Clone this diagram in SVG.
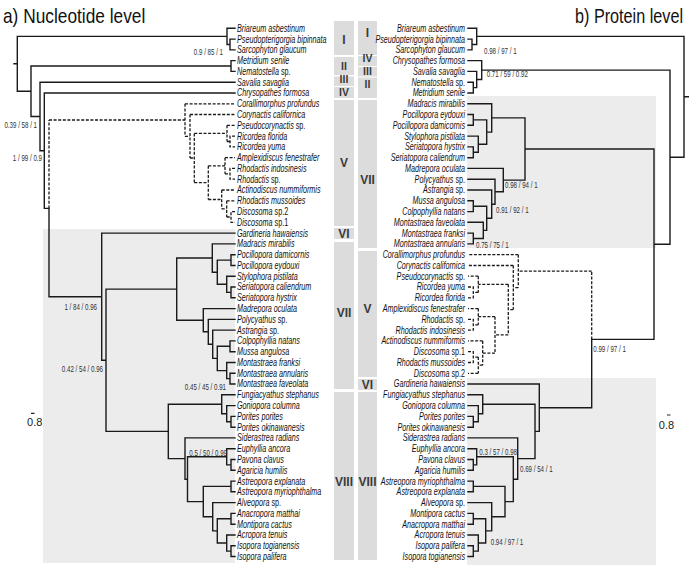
<svg xmlns="http://www.w3.org/2000/svg" width="689" height="569" viewBox="0 0 689 569">
<style>
.t{font-family:"Liberation Sans",Arial,sans-serif;font-size:10px;font-style:italic;fill:#111}
.n{font-style:normal}
.b{font-family:"Liberation Sans",Arial,sans-serif;font-size:9.5px;fill:#333}
.r{font-family:"Liberation Sans",Arial,sans-serif;font-weight:bold;font-size:12px;fill:#3a3a3a;text-anchor:middle}
.rs{font-size:10.5px}
.s{fill:none;stroke:#1a1a1a;stroke-width:1.4;stroke-linecap:square}
.d{fill:none;stroke:#1a1a1a;stroke-width:1.3;stroke-dasharray:3 1.6}
.bx{fill:#dcdcdc}
.bg{fill:#ececec}
.ti{font-family:"Liberation Sans",Arial,sans-serif;font-size:20px;fill:#111}
</style>
<rect width="689" height="569" fill="#fff"/>
<g id="backgrounds">
<rect class="bg" x="43" y="229" width="192" height="334"/>
<rect class="bg" x="467" y="96" width="189" height="152"/>
<rect class="bg" x="467" y="378" width="189" height="187"/>
</g>
<text id="title-a" class="ti" transform="translate(3 23) scale(0.865 1)">a) Nucleotide level</text>
<text id="title-b" class="ti" transform="translate(575 23) scale(0.81 1)">b) Protein level</text>
<g id="groups-left">
<rect class="bx" x="334" y="21" width="20" height="34"/><text class="r" x="344" y="44">I</text>
<rect class="bx" x="334" y="57" width="20" height="18"/><text class="r rs" x="344" y="70.3">II</text>
<rect class="bx" x="334" y="76.5" width="20" height="9.5"/><text class="r rs" x="344" y="83.3">III</text>
<rect class="bx" x="334" y="87" width="20" height="11"/><text class="r rs" x="344" y="96">IV</text>
<rect class="bx" x="334" y="100" width="20" height="126"/><text class="r" x="344" y="167">V</text>
<rect class="bx" x="334" y="228" width="20" height="11"/><text class="r" x="344" y="238">VI</text>
<rect class="bx" x="334" y="242" width="20" height="147"/><text class="r" x="344" y="317">VII</text>
<rect class="bx" x="334" y="392" width="20" height="168"/><text class="r" x="344" y="486">VIII</text>
</g>
<g id="groups-right">
<rect class="bx" x="358" y="21" width="19" height="34"/><text class="r" x="367.5" y="37">I</text>
<rect class="bx" x="358" y="56" width="19" height="10"/><text class="r rs" x="367.5" y="62.3">IV</text>
<rect class="bx" x="358" y="67" width="19" height="9.5"/><text class="r rs" x="367.5" y="75">III</text>
<rect class="bx" x="358" y="77.5" width="19" height="20.5"/><text class="r rs" x="367.5" y="87.8">II</text>
<rect class="bx" x="358" y="100" width="19" height="148"/><text class="r" x="367.5" y="184">VII</text>
<rect class="bx" x="358" y="251" width="19" height="126"/><text class="r" x="367.5" y="313">V</text>
<rect class="bx" x="358" y="379" width="19" height="11"/><text class="r" x="367.5" y="389">VI</text>
<rect class="bx" x="358" y="392" width="19" height="168"/><text class="r" x="367.5" y="486">VIII</text>
</g>
<g id="connectors-left">
<path class="s" d="M14 63.8H17.3M17.3 36.4V91.2M17.3 36.4H227M17.3 91.2H31
M227 28.3V44.5M227 28.3H235M227 44.5H230M235 39.1H230V49.9H235
M31 66V116.5M31 66H231M235 60.6H231V71.4H235M31 116.5H40
M40 82.2V150.7M40 82.2H235M40 150.7H44.3
M44.3 93V208.4M44.3 93H235M44.3 208.4H49
M49 208.4V296.7M49 296.7H101.7
M101.7 233.1V360.3M101.7 233.1H235M101.7 360.3H106
M106 289.1V431.4M106 289.1H176.7M106 431.4H168.3
M176.7 258V320.2M176.7 258H212.3M176.7 320.2H203.3
M212.3 243.9V272.2M212.3 243.9H235M212.3 272.2H217.3
M217.3 260.1V284.3M217.3 260.1H231M217.3 284.3H226.7
M235 254.7H231V265.5H235
M226.7 276.2V292.4M226.7 276.2H235M226.7 292.4H231M235 287H231V297.8H235
M203.3 308.6V331.8M203.3 308.6H235M203.3 331.8H208.3
M208.3 319.4V344.3M208.3 319.4H235M208.3 344.3H212.7
M212.7 330.1V358.4M212.7 330.1H235M212.7 358.4H217.3
M217.3 346.3V370.6M217.3 346.3H230M217.3 370.6H226.7
M235 340.9H230V351.7H235
M226.7 362.5V378.6M226.7 362.5H235M226.7 378.6H230M235 373.3H230V384H235
M168.3 404.2V458.6M168.3 404.2H221.7M168.3 458.6H185
M221.7 394.8V413.7M221.7 394.8H235M221.7 413.7H226.7
M226.7 405.6V421.8M226.7 405.6H235M226.7 421.8H231M235 416.4H231V427.2H235
M185 437.9V479.2M185 437.9H235M185 479.2H187.5
M187.5 456.8V501.6M187.5 456.8H226.7M187.5 501.6H203.3
M226.7 448.7V464.9M226.7 448.7H235M226.7 464.9H231M235 459.5H231V470.3H235
M203.3 486.4V516.8M203.3 486.4H231M203.3 516.8H212.7M235 481.1H231V491.8H235
M212.7 502.6V530.9M212.7 502.6H235M212.7 530.9H217.3
M217.3 518.8V543M217.3 518.8H231M217.3 543H226.7M235 513.4H231V524.2H235
M226.7 535V551.1M226.7 535H235M226.7 551.1H231M235 545.7H231V556.5H235"/>
<path class="d" d="M49 208.4V120M49 120H185
M185 103.8V136.3M185 103.8H235M185 136.3H190
M190 114.5V158M190 114.5H235M190 158H194.3
M194.3 133.4V182.6M194.3 133.4H227M194.3 182.6H208.3
M227 125.3V141.5M227 125.3H235M227 141.5H230M235 136.1H230V146.9H235
M208.3 165.8V199.5M208.3 165.8H225M208.3 199.5H221.7
M225 157.7V173.8M225 157.7H235M225 173.8H230M235 168.4H230V179.2H235
M221.7 190V208.9M221.7 190H235M221.7 208.9H226.7
M226.7 200.8V217M226.7 200.8H235M226.7 217H231M235 211.6H231V222.3H235"/>
</g>
<g id="connectors-right">
<path class="s" d="M684 36.4V157.2M684 96.8H689M684 36.4H476.7M684 157.2H670
M476.7 28.3V44.5M476.7 28.3H468M476.7 44.5H472M468 39.1H472V49.9H468
M670 70.1V244.2M670 70.1H481.7M670 244.2H654
M481.7 60.6V79.5M481.7 60.6H468M481.7 79.5H476.7
M476.7 71.4V87.6M476.7 71.4H468M476.7 87.6H473.3M468 82.2H473.3V93H468
M654 149V339.4M654 149H525M654 339.4H591.7
M525 117.9V180.1M525 117.9H491.7M525 180.1H503.3
M491.7 103.8V132.1M491.7 103.8H468M491.7 132.1H486.7
M486.7 119.9V144.2M486.7 119.9H473.3M486.7 144.2H478.3M468 114.5H473.3V125.3H468
M478.3 136.1V152.3M478.3 136.1H468M478.3 152.3H473.3M468 146.9H473.3V157.7H468
M503.3 168.4V191.7M503.3 168.4H468M503.3 191.7H495
M495 179.2V204.2M495 179.2H468M495 204.2H491.7
M491.7 190V218.3M491.7 190H468M491.7 218.3H486.7
M486.7 206.2V230.4M486.7 206.2H473.3M486.7 230.4H483.3M468 200.8H473.3V211.6H468
M483.3 222.3V238.5M483.3 222.3H468M483.3 238.5H473.3M468 233.1H473.3V243.9H468
M591.7 339.4V407.7M591.7 407.7H539.3
M539.3 384V431.4M539.3 384H468M539.3 431.4H535
M535 404.2V458.6M535 404.2H482.7M535 458.6H517.7
M482.7 394.8V413.7M482.7 394.8H468M482.7 413.7H478.3
M478.3 405.6V421.8M478.3 405.6H468M478.3 421.8H473.3M468 416.4H473.3V427.2H468
M517.7 437.9V479.2M517.7 437.9H468M517.7 479.2H513.3
M513.3 456.8V501.6M513.3 456.8H476.7M513.3 501.6H505
M476.7 448.7V464.9M476.7 448.7H468M476.7 464.9H473.3M468 459.5H473.3V470.3H468
M505 486.4V516.8M505 486.4H473.3M505 516.8H491.7M468 481.1H473.3V491.8H468
M491.7 502.6V530.9M491.7 502.6H468M491.7 530.9H485.7
M485.7 518.8V543M485.7 518.8H473.3M485.7 543H478.3M468 513.4H473.3V524.2H468
M478.3 535V551.1M478.3 535H468M478.3 551.1H473.3M468 545.7H473.3V556.5H468"/>
<path class="d" d="M591.7 339.4V271.1M591.7 271.1H518.3
M518.3 254.7V287.6M518.3 254.7H468M518.3 287.6H513.3
M513.3 265.5V309.6M513.3 265.5H468M513.3 309.6H508.3
M508.3 284.3V334.9M508.3 284.3H478.3M508.3 334.9H495
M478.3 276.2V292.4M478.3 276.2H468M478.3 292.4H473.3M468 287H473.3V297.8H468
M495 316.7V353.1M495 316.7H478.3M495 353.1H482.7
M478.3 308.6V324.8M478.3 308.6H468M478.3 324.8H473.3M468 319.4H473.3V330.1H468
M482.7 340.9V365.2M482.7 340.9H468M482.7 365.2H478.3
M478.3 357.1V373.3M478.3 357.1H473.3M478.3 373.3H468M468 351.7H473.3V362.5H468"/>
</g>
<g id="support-left" class="b" text-anchor="end">
<text transform="translate(223 55) scale(0.65 1)">0.9 / 85 / 1</text>
<text transform="translate(37 128.4) scale(0.65 1)">0.39 / 58 / 1</text>
<text transform="translate(42 160.5) scale(0.65 1)">1 / 99 / 0.9</text>
<text transform="translate(97 310) scale(0.65 1)">1 / 84 / 0.96</text>
<text transform="translate(103 371.7) scale(0.65 1)">0.42 / 54 / 0.96</text>
<text transform="translate(226 390) scale(0.65 1)">0.45 / 45 / 0.91</text>
<text transform="translate(227 455.5) scale(0.65 1)">0.5 / 50 / 0.99</text>
</g>
<g id="support-right" class="b">
<text transform="translate(484 54) scale(0.65 1)">0.98 / 97 / 1</text>
<text transform="translate(486.7 77.4) scale(0.65 1)">0.71 / 59 / 0.92</text>
<text transform="translate(505 188.4) scale(0.65 1)">0.98 / 94 / 1</text>
<text transform="translate(496 213.4) scale(0.65 1)">0.91 / 92 / 1</text>
<text transform="translate(476 248.4) scale(0.65 1)">0.75 / 75 / 1</text>
<text transform="translate(593.3 351.7) scale(0.65 1)">0.99 / 97 / 1</text>
<text transform="translate(479.3 455) scale(0.65 1)">0.3 / 57 / 0.98</text>
<text transform="translate(520 471.7) scale(0.65 1)">0.69 / 54 / 1</text>
<text transform="translate(490.7 545) scale(0.65 1)">0.94 / 97 / 1</text>
</g>
<g id="scale-bars">
<path d="M31 413.3H34.5M667 415H670.5" stroke="#222" stroke-width="1.2"/>
<text x="34.7" y="426" font-family="Liberation Sans, Arial, sans-serif" font-size="11" fill="#222" text-anchor="middle">0.8</text>
<text x="666.5" y="429" font-family="Liberation Sans, Arial, sans-serif" font-size="11" fill="#222" text-anchor="middle">0.8</text>
</g>
<g id="taxa-left" class="t" transform="translate(237 0) scale(0.72 1)">
<text y="31.8">Briareum asbestinum</text>
<text y="42.6">Pseudopterigorgia bipinnata</text>
<text y="53.4">Sarcophyton glaucum</text>
<text y="64.1">Metridium senile</text>
<text y="74.9">Nematostella <tspan class="n">sp.</tspan></text>
<text y="85.7">Savalia savaglia</text>
<text y="96.5">Chrysopathes formosa</text>
<text y="107.3">Corallimorphus profundus</text>
<text y="118">Corynactis californica</text>
<text y="128.8">Pseudocorynactis <tspan class="n">sp.</tspan></text>
<text y="139.6">Ricordea florida</text>
<text y="150.4">Ricordea yuma</text>
<text y="161.2">Amplexidiscus fenestrafer</text>
<text y="171.9">Rhodactis indosinesis</text>
<text y="182.7">Rhodactis <tspan class="n">sp.</tspan></text>
<text y="193.5">Actinodiscus nummiformis</text>
<text y="204.3">Rhodactis mussoides</text>
<text y="215.1">Discosoma <tspan class="n">sp.2</tspan></text>
<text y="225.8">Discosoma <tspan class="n">sp.1</tspan></text>
<text y="236.6">Gardineria hawaiensis</text>
<text y="247.4">Madracis mirabilis</text>
<text y="258.2">Pocillopora damicornis</text>
<text y="269">Pocillopora eydouxi</text>
<text y="279.7">Stylophora pistilata</text>
<text y="290.5">Seriatopora caliendrum</text>
<text y="301.3">Seriatopora hystrix</text>
<text y="312.1">Madrepora oculata</text>
<text y="322.9">Polycyathus <tspan class="n">sp.</tspan></text>
<text y="333.6">Astrangia <tspan class="n">sp.</tspan></text>
<text y="344.4">Colpophyllia natans</text>
<text y="355.2">Mussa angulosa</text>
<text y="366">Montastraea franksi</text>
<text y="376.8">Montastraea annularis</text>
<text y="387.5">Montastraea faveolata</text>
<text y="398.3">Fungiacyathus stephanus</text>
<text y="409.1">Goniopora columna</text>
<text y="419.9">Porites porites</text>
<text y="430.7">Porites okinawanesis</text>
<text y="441.4">Siderastrea radians</text>
<text y="452.2">Euphyllia ancora</text>
<text y="463">Pavona clavus</text>
<text y="473.8">Agaricia humilis</text>
<text y="484.6">Astreopora explanata</text>
<text y="495.3">Astreopora myriophthalma</text>
<text y="506.1">Alveopora <tspan class="n">sp.</tspan></text>
<text y="516.9">Anacropora matthai</text>
<text y="527.7">Montipora cactus</text>
<text y="538.5">Acropora tenuis</text>
<text y="549.2">Isopora togianensis</text>
<text y="560">Isopora palifera</text>
</g>
<g id="taxa-right" class="t" text-anchor="end" transform="translate(465 0) scale(0.72 1)">
<text y="31.8">Briareum asbestinum</text>
<text y="42.6">Pseudopterigorgia bipinnata</text>
<text y="53.4">Sarcophyton glaucum</text>
<text y="64.1">Chrysopathes formosa</text>
<text y="74.9">Savalia savaglia</text>
<text y="85.7">Nematostella <tspan class="n">sp.</tspan></text>
<text y="96.5">Metridium senile</text>
<text y="107.3">Madracis mirabilis</text>
<text y="118">Pocillopora eydouxi</text>
<text y="128.8">Pocillopora damicornis</text>
<text y="139.6">Stylophora pistilata</text>
<text y="150.4">Seriatopora hystrix</text>
<text y="161.2">Seriatopora caliendrum</text>
<text y="171.9">Madrepora oculata</text>
<text y="182.7">Polycyathus <tspan class="n">sp.</tspan></text>
<text y="193.5">Astrangia <tspan class="n">sp.</tspan></text>
<text y="204.3">Mussa angulosa</text>
<text y="215.1">Colpophyllia natans</text>
<text y="225.8">Montastraea faveolata</text>
<text y="236.6">Montastraea franksi</text>
<text y="247.4">Montastraea annularis</text>
<text y="258.2">Corallimorphus profundus</text>
<text y="269">Corynactis californica</text>
<text y="279.7">Pseudocorynactis <tspan class="n">sp.</tspan></text>
<text y="290.5">Ricordea yuma</text>
<text y="301.3">Ricordea florida</text>
<text y="312.1">Amplexidiscus fenestrafer</text>
<text y="322.9">Rhodactis <tspan class="n">sp.</tspan></text>
<text y="333.6">Rhodactis indosinesis</text>
<text y="344.4">Actinodiscus nummiformis</text>
<text y="355.2">Discosoma <tspan class="n">sp.1</tspan></text>
<text y="366">Rhodactis mussoides</text>
<text y="376.8">Discosoma <tspan class="n">sp.2</tspan></text>
<text y="387.5">Gardineria hawaiensis</text>
<text y="398.3">Fungiacyathus stephanus</text>
<text y="409.1">Goniopora columna</text>
<text y="419.9">Porites porites</text>
<text y="430.7">Porites okinawanesis</text>
<text y="441.4">Siderastrea radians</text>
<text y="452.2">Euphyllia ancora</text>
<text y="463">Pavona clavus</text>
<text y="473.8">Agaricia humilis</text>
<text y="484.6">Astreopora myriophthalma</text>
<text y="495.3">Astreopora explanata</text>
<text y="506.1">Alveopora <tspan class="n">sp.</tspan></text>
<text y="516.9">Montipora cactus</text>
<text y="527.7">Anacropora matthai</text>
<text y="538.5">Acropora tenuis</text>
<text y="549.2">Isopora palifera</text>
<text y="560">Isopora togianensis</text>
</g>
</svg>
